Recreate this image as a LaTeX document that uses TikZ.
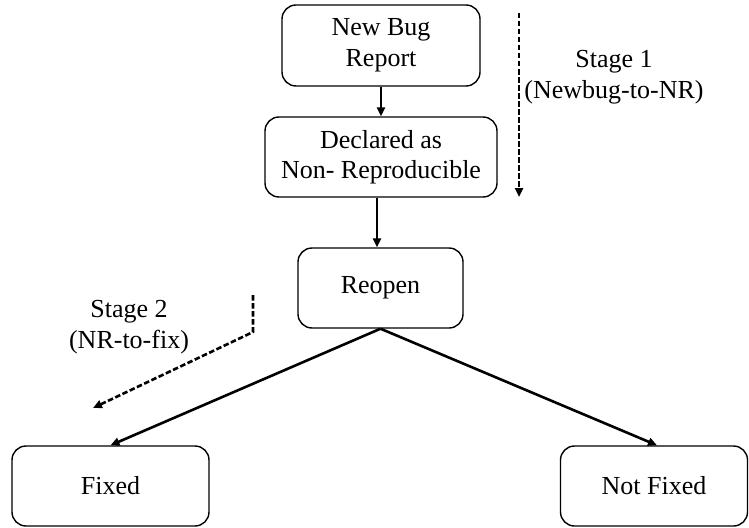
\documentclass[tikz,border=0pt]{standalone}
\usepackage{fontspec}
\setmainfont{Liberation Serif}
\usetikzlibrary{arrows.meta}
\begin{document}
\begin{tikzpicture}[x=1pt,y=-1pt,
  box/.style={draw, line width=1.4pt, rounded corners=14pt, align=center,
    font=\fontsize{26}{30.5}\selectfont, inner sep=0pt},
  lbl/.style={align=center, font=\fontsize{26}{30.5}\selectfont, inner sep=0pt},
  conn/.style={line width=2.6pt, -{Triangle[length=9pt,width=8pt]}},
  dconn/.style={line width=2.6pt, dash pattern=on 5.5pt off 2.5pt, -{Triangle[length=9pt,width=8pt]}}
]
\useasboundingbox (0,0) rectangle (749,527);
\node[box, minimum width=198pt, minimum height=81pt] (nb) at (381,45.5) {New Bug\\Report};
\node[box, minimum width=232pt, minimum height=80pt] (dec) at (381,157) {Declared as\\Non- Reproducible};
\node[box, minimum width=165pt, minimum height=80pt] (ro) at (380.5,288) {Reopen};
\node[box, minimum width=197pt, minimum height=80pt] (fx) at (110.5,486) {Fixed};
\node[box, minimum width=187pt, minimum height=80pt] (nf) at (654,486) {Not Fixed};
\node[lbl] (s1) at (614,77) {Stage 1\\(Newbug-to-NR)};
\node[lbl] (s2) at (129,327) {Stage 2\\(NR-to-fix)};
\coordinate (s1a) at (519,13);
\coordinate (s1b) at (519,197);
\coordinate (s2a) at (253,295);
\coordinate (s2b) at (253,332);
\coordinate (s2c) at (93,408);
\draw[conn] (nb.south) -- (dec.north);
\draw[conn] ([xshift=-4pt]dec.south) -- ([xshift=-3.5pt]ro.north);
\draw[conn] (ro.south) -- (fx.north);
\draw[conn] (ro.south) -- ([xshift=3pt]nf.north);
\draw[dconn] (s1a) -- (s1b);
\draw[dconn] (s2a) -- (s2b) -- (s2c);
\end{tikzpicture}
\end{document}
